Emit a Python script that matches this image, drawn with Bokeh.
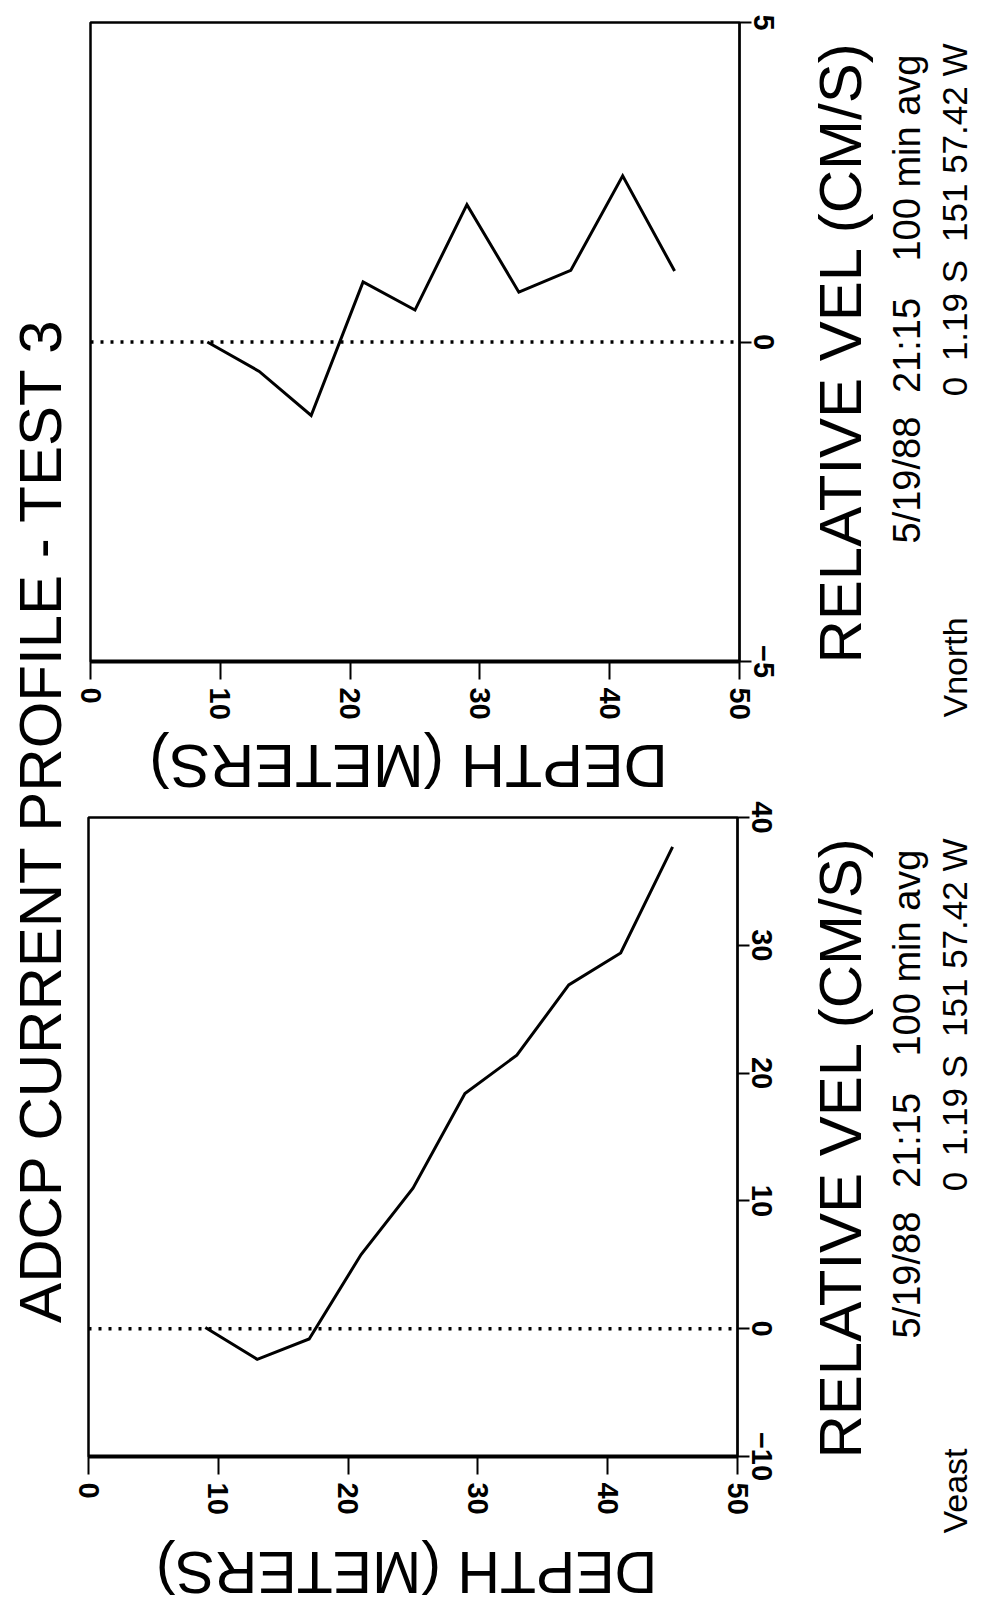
from math import pi
from bokeh.plotting import figure
from bokeh.layouts import row, column
from bokeh.models import Label, Span, Range1d, FixedTicker
from bokeh.embed import file_html
from bokeh.resources import INLINE

# ---------------- data ----------------
TITLE = "ADCP CURRENT PROFILE - TEST 3"
depth_m = [9, 13, 17, 21, 25, 29, 33, 37, 41, 45]
vnorth = [0.0, -0.46, -1.15, 0.94, 0.50, 2.15, 0.78, 1.12, 2.60, 1.11]
veast = [0.1, -2.4, -0.8, 5.8, 11.0, 18.4, 21.4, 26.9, 29.4, 37.7]
depth_ticks = [0, 10, 20, 30, 40, 50]
vnorth_ticks = [-5, 0, 5]
veast_ticks = [-10, 0, 10, 20, 30, 40]
info_line1 = ["5/19/88", "21:15", "100 min avg"]
info_line2 = ["0", "1.19 S", "151 57.42 W"]
depth_label = "DEPTH (METERS)"
vel_label = "RELATIVE VEL (CM/S)"

FONT = "Liberation Sans"
PAGE_W = 981
LEFT_W = 74      # title strip width
SPLIT_X = 785    # panel column / right text strip boundary


def noalign(f):
    try:
        f.frame_align = False
    except Exception:
        pass


def blank(w, h, xr, yr):
    f = figure(width=w, height=h, x_range=xr, y_range=yr,
               x_axis_type=None, y_axis_type=None, output_backend="svg",
               toolbar_location=None, min_border=0)
    f.outline_line_color = None
    f.xgrid.visible = False
    f.ygrid.visible = False
    f.background_fill_color = "white"
    f.border_fill_color = "white"
    noalign(f)
    return f


def txt(f, x, y, text, size, angle, align, baseline="middle", style="normal"):
    f.add_layout(Label(x=x, y=y, text=text, angle=angle,
                       text_align=align, text_baseline=baseline,
                       text_font=FONT, text_font_size=f"{size}px",
                       text_font_style=style, text_color="black"))


def block(y0, y1, y2, fl, ft, fw, fh, vrange, vticks, vel, comp, comp_y,
          depth_dy, depth_size):
    """y0: block top, y1: panel/depth-label split, y2: block bottom (page px)."""
    vmin, vmax = vrange
    pw = SPLIT_X - LEFT_W
    ph = y1 - y0
    p = figure(width=pw, height=ph,
               x_range=Range1d(0, 50), y_range=Range1d(vmin, vmax),
               output_backend="svg", toolbar_location=None,
               y_axis_location="right",
               min_border_left=fl - LEFT_W, min_border_top=ft - y0,
               min_border_right=SPLIT_X - (fl + fw),
               min_border_bottom=y1 - (ft + fh))
    noalign(p)
    p.xgrid.visible = False
    p.ygrid.visible = False
    p.outline_line_color = "black"
    p.outline_line_width = 2.5
    p.background_fill_color = "white"
    p.border_fill_color = "white"

    xa = p.xaxis[0]
    xa.ticker = FixedTicker(ticks=depth_ticks)
    xa.minor_tick_line_color = None
    xa.major_tick_in = 0
    xa.major_tick_out = 18
    xa.major_tick_line_width = 2
    xa.axis_line_width = 4
    xa.major_label_orientation = "vertical"
    xa.major_label_standoff = 8
    xa.major_label_text_font = FONT
    xa.major_label_text_font_size = "29px"
    xa.major_label_text_font_style = "bold"
    xa.major_label_text_color = "black"

    ya = p.yaxis[0]
    ya.ticker = FixedTicker(ticks=vticks)
    ya.minor_tick_line_color = None
    ya.major_tick_in = 0
    ya.major_tick_out = 12
    ya.major_tick_line_width = 2
    ya.axis_line_width = 2
    ya.major_label_orientation = "vertical"
    ya.major_label_standoff = 2
    ya.major_label_text_font = FONT
    ya.major_label_text_font_size = "29px"
    ya.major_label_text_font_style = "bold"
    ya.major_label_text_color = "black"

    p.add_layout(Span(location=0, dimension="width", line_color="black",
                      line_width=3.5, line_dash="3 7"))
    p.line(depth_m, vel, line_color="black", line_width=3, line_join="miter")

    # depth axis title strip below the panel
    dh = y2 - y1
    d = blank(pw, dh, Range1d(0, pw), Range1d(0, dh))
    txt(d, fl + 318 - LEFT_W, dh - (ft + fh + depth_dy - y1), depth_label,
        depth_size, pi, "center")

    # right-hand text strip (full block height)
    rw = PAGE_W - SPLIT_X
    bh = y2 - y0
    r = blank(rw, bh, Range1d(0, rw), Range1d(0, bh))

    def ry(py):
        return bh - (py - y0)

    def rx(px):
        return px - SPLIT_X

    txt(r, rx(840), ry(ft + fh + 2), vel_label, 60, pi / 2, "left")
    txt(r, rx(906), ry(ft + 521), info_line1[0], 38, pi / 2, "left")
    txt(r, rx(906), ry(ft + 323), info_line1[1], 38, pi / 2, "center")
    txt(r, rx(906), ry(ft + 32), info_line1[2], 38, pi / 2, "right")
    txt(r, rx(954), ry(ft + 364), info_line2[0], 35, pi / 2, "center")
    txt(r, rx(954), ry(ft + 288), info_line2[1], 35, pi / 2, "center")
    txt(r, rx(954), ry(ft + 21), info_line2[2], 35, pi / 2, "right")
    txt(r, rx(954), ry(ft + comp_y), comp, 34, pi / 2, "left")

    return row(column(p, d, spacing=0), r, spacing=0)


# title strip
TH = 1604
t = blank(LEFT_W, TH, Range1d(0, LEFT_W), Range1d(0, TH))
txt(t, 40, TH - 819, TITLE, 60, pi / 2, "center")

b1 = block(0, 727, 800, 90, 22, 649, 639, (-5, 5), vnorth_ticks, vnorth,
           "Vnorth", 695, 104, 61)
b2 = block(800, 1527, TH, 88, 817, 649, 639, (-10, 40), veast_ticks, veast,
           "Veast", 716, 115, 59)

layout = row(t, column(b1, b2, spacing=0), spacing=0)
open("out.html", "w").write(file_html(layout, INLINE))
